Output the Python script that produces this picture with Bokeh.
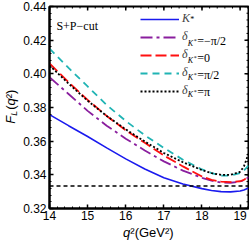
import numpy as np
from bokeh.plotting import figure
from bokeh.layouts import row, column
from bokeh.models import (Range1d, Label, Legend, LegendItem, FixedTicker, Span, PrintfTickFormatter)
from bokeh.embed import file_html
from bokeh.resources import INLINE

q2 = [14.0, 14.5, 15.0, 15.5, 16.0, 16.5, 17.0, 17.5, 18.0, 18.25, 18.5, 18.75, 19.0, 19.1, 19.22]
fl_kstar = [0.3758, 0.3692, 0.3628, 0.3560, 0.3495, 0.3435, 0.3383, 0.3345, 0.3318, 0.3307, 0.3300, 0.3299, 0.3304, 0.3310, 0.3322]
fl_m_pi2 = [0.3980, 0.3880, 0.3780, 0.3692, 0.3615, 0.3545, 0.3480, 0.3425, 0.3382, 0.3365, 0.3355, 0.3353, 0.3360, 0.3368, 0.3385]
fl_zero = [0.4062, 0.3950, 0.3845, 0.3750, 0.3665, 0.3590, 0.3515, 0.3450, 0.3390, 0.3370, 0.3360, 0.3357, 0.3362, 0.3370, 0.3390]
fl_p_pi2 = [0.4150, 0.4035, 0.3925, 0.3815, 0.3720, 0.3635, 0.3560, 0.3490, 0.3432, 0.3410, 0.3395, 0.3395, 0.3410, 0.3425, 0.3455]
fl_pi = [0.4050, 0.3942, 0.3840, 0.3750, 0.3670, 0.3598, 0.3530, 0.3475, 0.3428, 0.3410, 0.3400, 0.3400, 0.3418, 0.3450, 0.3525]
fl_limit = 1.0 / 3.0

x_ticks = [14, 15, 16, 17, 18, 19]
y_ticks = [0.32, 0.34, 0.36, 0.38, 0.40, 0.42, 0.44]
x_minor = [round(14 + 0.2 * i, 2) for i in range(27)]
y_minor = [round(0.32 + 0.004 * i, 4) for i in range(31)]

X0, X1, Y0, Y1 = 14.0, 19.22, 0.32, 0.44
TW = 20                     # width of the y-title strip
W, H = 229, 224             # main figure
XH = 21                     # height of the x-title strip
BL, BR, BT, BB = 27, 1, 6, 16
FL, FT = TW + BL, BT        # frame left/top in page pixels
FW, FH = W - BL - BR, H - BT - BB

serif = "Liberation Serif"
sans = "Liberation Sans"

p = figure(width=W, height=H, output_backend="svg", toolbar_location=None,
           x_range=Range1d(X0, X1), y_range=Range1d(Y0, Y1),
           min_border_left=BL, min_border_right=BR, min_border_top=BT, min_border_bottom=BB)
p.grid.visible = False
p.outline_line_color = "black"
p.outline_line_width = 2
p.background_fill_color = "white"

def style_axis(ax):
    ax.axis_line_width = 2
    ax.axis_line_color = "black"
    ax.major_tick_in = 4
    ax.major_tick_out = 0
    ax.minor_tick_in = 2
    ax.minor_tick_out = 0
    ax.major_tick_line_width = 1.5
    ax.minor_tick_line_width = 1
    ax.major_label_text_font = sans
    ax.major_label_text_font_size = "12px"
    ax.major_label_text_color = "black"

for ax in p.xaxis:
    ax.ticker = FixedTicker(ticks=x_ticks, minor_ticks=x_minor)
    style_axis(ax)
    ax.major_label_standoff = 2
for ax in p.yaxis:
    ax.ticker = FixedTicker(ticks=y_ticks, minor_ticks=y_minor)
    ax.formatter = PrintfTickFormatter(format="%.2f")
    style_axis(ax)
    ax.major_label_standoff = 3

# inward ticks on the top and right frame edges (dash markers centred on the edge, clipped by the frame)
p.scatter(x_ticks, [Y1] * len(x_ticks), marker="dash", size=8, angle=np.pi / 2, line_color="black", line_width=1.5)
p.scatter(x_minor, [Y1] * len(x_minor), marker="dash", size=4, angle=np.pi / 2, line_color="black", line_width=1)
p.scatter([X1] * len(y_ticks), y_ticks, marker="dash", size=8, line_color="black", line_width=1.5)
p.scatter([X1] * len(y_minor), y_minor, marker="dash", size=4, line_color="black", line_width=1)

p.add_layout(Span(location=fl_limit, dimension="width", line_color="black", line_width=1.5, line_dash="4 3"))

r_k = p.line(q2, fl_kstar, line_color="#1a1aee", line_width=1.6)
r_m = p.line(q2, fl_m_pi2, line_color="#8a1e9e", line_width=1.8, line_dash="12 4 3 4")
r_z = p.line(q2, fl_zero, line_color="#ff1010", line_width=1.8, line_dash="11 4")
r_p = p.line(q2, fl_p_pi2, line_color="#20b4b4", line_width=1.8, line_dash="7 5")
r_pi = p.line(q2, fl_pi, line_color="black", line_width=1.8, line_dash="2 2")

legend = Legend(items=[LegendItem(label=t, renderers=[r]) for t, r in
                       zip(["K", "\u03b4", "\u03b4", "\u03b4", "\u03b4"], [r_k, r_m, r_z, r_p, r_pi])],
                location=(138 - FL, (FT + FH) - 98), glyph_width=39, glyph_height=14, label_height=14,
                spacing=3, padding=0, margin=0, border_line_color=None, label_standoff=3,
                background_fill_alpha=0, label_width=6, label_text_font=serif,
                label_text_font_size="12px", label_text_font_style="italic")
p.add_layout(legend, "center")

def dx(px):
    return X0 + (px - FL) * (X1 - X0) / FW

def dy(py):
    return Y1 - (py - FT) * (Y1 - Y0) / FH

def lab(fig, x, y, text, size="12px", style="normal", angle=0, xo=0, yo=0, font=serif):
    fig.add_layout(Label(x=x, y=y, text=text, x_offset=xo, y_offset=yo,
                         text_font=font, text_font_size=size, text_font_style=style,
                         angle=angle, text_align="left", text_baseline="middle", text_color="black"))

lab(p, dx(54), dy(25), "S+P\u2212cut")

rows = [23, 40, 57, 74, 91]
lx = 180
lab(p, dx(lx), dy(rows[0]), "*", size="8px", xo=9, yo=4)
for py, tail in zip(rows[1:], ["=\u2212\u03c0/2", "=0", "=\u03c0/2", "=\u03c0"]):
    lab(p, dx(lx), dy(py), "K", size="8px", style="italic", xo=6.5, yo=-3)
    lab(p, dx(lx), dy(py), "*", size="6px", xo=12.5, yo=0)
    lab(p, dx(lx), dy(py), tail, xo=16)

# title strips (pixel coordinates, origin at each strip's top-left)
def strip(w, h):
    f = figure(width=w, height=h, output_backend="svg", toolbar_location=None,
               x_range=Range1d(0, w), y_range=Range1d(h, 0), x_axis_type=None, y_axis_type=None,
               min_border=0)
    f.grid.visible = False
    f.outline_line_color = None
    return f

yt = strip(TW, H)
a = np.pi / 2
ybase = 130
xc = 10
lab(yt, xc, ybase, "F", size="13px", style="italic", angle=a, font=sans)
lab(yt, xc, ybase, "L", size="9px", style="italic", angle=a, font=sans, xo=3, yo=8)
lab(yt, xc, ybase, "(", size="13px", angle=a, font=sans, yo=14)
lab(yt, xc, ybase, "q", size="13px", style="italic", angle=a, font=sans, yo=18.3)
lab(yt, xc, ybase, "\u00b2)", size="13px", angle=a, font=sans, yo=25.5)

xt = strip(TW + W, XH)
xs = FL + FW / 2 - 25
lab(xt, xs, 8, "q", size="13px", style="italic", font=sans)
lab(xt, xs, 8, "\u00b2(GeV\u00b2)", size="13px", font=sans, xo=7.3)

layout = column(row(yt, p), xt)
open("out.html", "w").write(file_html(layout, INLINE))
